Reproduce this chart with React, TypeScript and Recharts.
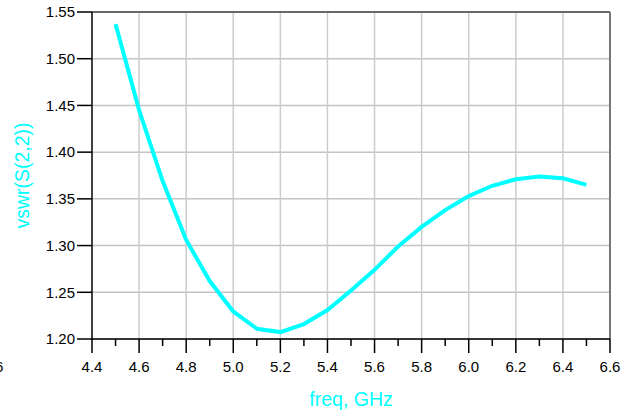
import React from 'react';
import {
  LineChart,
  Line,
  XAxis,
  YAxis,
  CartesianGrid,
  ReferenceLine,
} from 'recharts';

// freq (GHz) and vswr(S(2,2))
const FREQ = [4.5, 4.6, 4.7, 4.8, 4.9, 5.0, 5.1, 5.2, 5.3, 5.4, 5.5, 5.6, 5.7, 5.8, 5.9, 6.0, 6.1, 6.2, 6.3, 6.4, 6.5];
const VSWR = [1.537, 1.445, 1.369, 1.306, 1.262, 1.2295, 1.211, 1.2074, 1.216, 1.231, 1.252, 1.274, 1.299, 1.32, 1.338, 1.353, 1.364, 1.371, 1.374, 1.372, 1.365];

const X_TICKS = [4.4, 4.5, 4.6, 4.7, 4.8, 4.9, 5.0, 5.1, 5.2, 5.3, 5.4, 5.5, 5.6, 5.7, 5.8, 5.9, 6.0, 6.1, 6.2, 6.3, 6.4, 6.5, 6.6];
const X_MAJOR = [4.4, 4.6, 4.8, 5.0, 5.2, 5.4, 5.6, 5.8, 6.0, 6.2, 6.4, 6.6];
const Y_TICKS = [1.2, 1.25, 1.3, 1.35, 1.4, 1.45, 1.5, 1.55];

const data = FREQ.map((f, i) => ({ freq: f, vswr: VSWR[i] }));

const FONT = '"Liberation Sans", Arial, Helvetica, sans-serif';
const CYAN = '#00ffff';

const isMajor = (v: number) => X_MAJOR.some((m) => Math.abs(m - v) < 1e-6);

// x ticks: long mark + label on every 0.2, short mark on the odd tenths
const FreqTick = (props: any) => {
  const { x, y, payload } = props;
  const major = isMajor(payload.value);
  return (
    <g>
      <line x1={x} y1={y} x2={x} y2={y + (major ? 14 : 7)} stroke="#000" strokeWidth={1.5} />
      {major && (
        <text x={x} y={y + 33} textAnchor="middle" fontSize={15} fontFamily={FONT} fill="#000">
          {payload.value.toFixed(1)}
        </text>
      )}
    </g>
  );
};

export default function App() {
  return (
    <div style={{ position: 'relative', width: 630, height: 414, background: '#fff', overflow: 'hidden' }}>
      <style>{`body{margin:0}`}</style>
      <LineChart width={630} height={414} data={data} margin={{ top: 12, right: 20, left: 0, bottom: 0 }}>
        <CartesianGrid vertical={false} stroke="#c4c4c4" strokeWidth={1.5} />
        {X_MAJOR.slice(1, -1).map((v) => (
          <ReferenceLine key={v} x={v} stroke="#cccccc" strokeWidth={1.5} />
        ))}
        <ReferenceLine y={1.55} stroke="#444" strokeWidth={1.5} />
        <ReferenceLine x={6.6} stroke="#777" strokeWidth={2} />
        <XAxis
          dataKey="freq"
          type="number"
          domain={[4.4, 6.6]}
          ticks={X_TICKS}
          interval={0}
          tickLine={false}
          tickSize={0}
          tickMargin={0}
          tick={<FreqTick />}
          height={75}
          axisLine={{ stroke: '#000', strokeWidth: 1.5 }}
          label={{ value: 'freq, GHz', position: 'center', dy: 23, fill: CYAN, fontSize: 19.5, fontFamily: FONT }}
        />
        <YAxis
          type="number"
          domain={[1.2, 1.55]}
          ticks={Y_TICKS}
          interval={0}
          width={92}
          tickSize={15}
          tickMargin={2}
          tickFormatter={(v: number) => v.toFixed(2)}
          tick={{ fill: '#000', fontSize: 15, fontFamily: FONT }}
          tickLine={{ stroke: '#000', strokeWidth: 1.5 }}
          axisLine={{ stroke: '#000', strokeWidth: 1.5 }}
          label={{ value: 'vswr(S(2,2))', angle: -90, position: 'center', dx: -24, fill: CYAN, fontSize: 19.5, fontFamily: FONT }}
        />
        <Line
          type="linear"
          dataKey="vswr"
          stroke={CYAN}
          strokeWidth={4}
          dot={false}
          isAnimationActive={false}
        />
      </LineChart>
      <div style={{ position: 'absolute', left: -5, top: 358, fontSize: 15, fontFamily: FONT, color: '#000', lineHeight: '17px' }}>
        6
      </div>
    </div>
  );
}
